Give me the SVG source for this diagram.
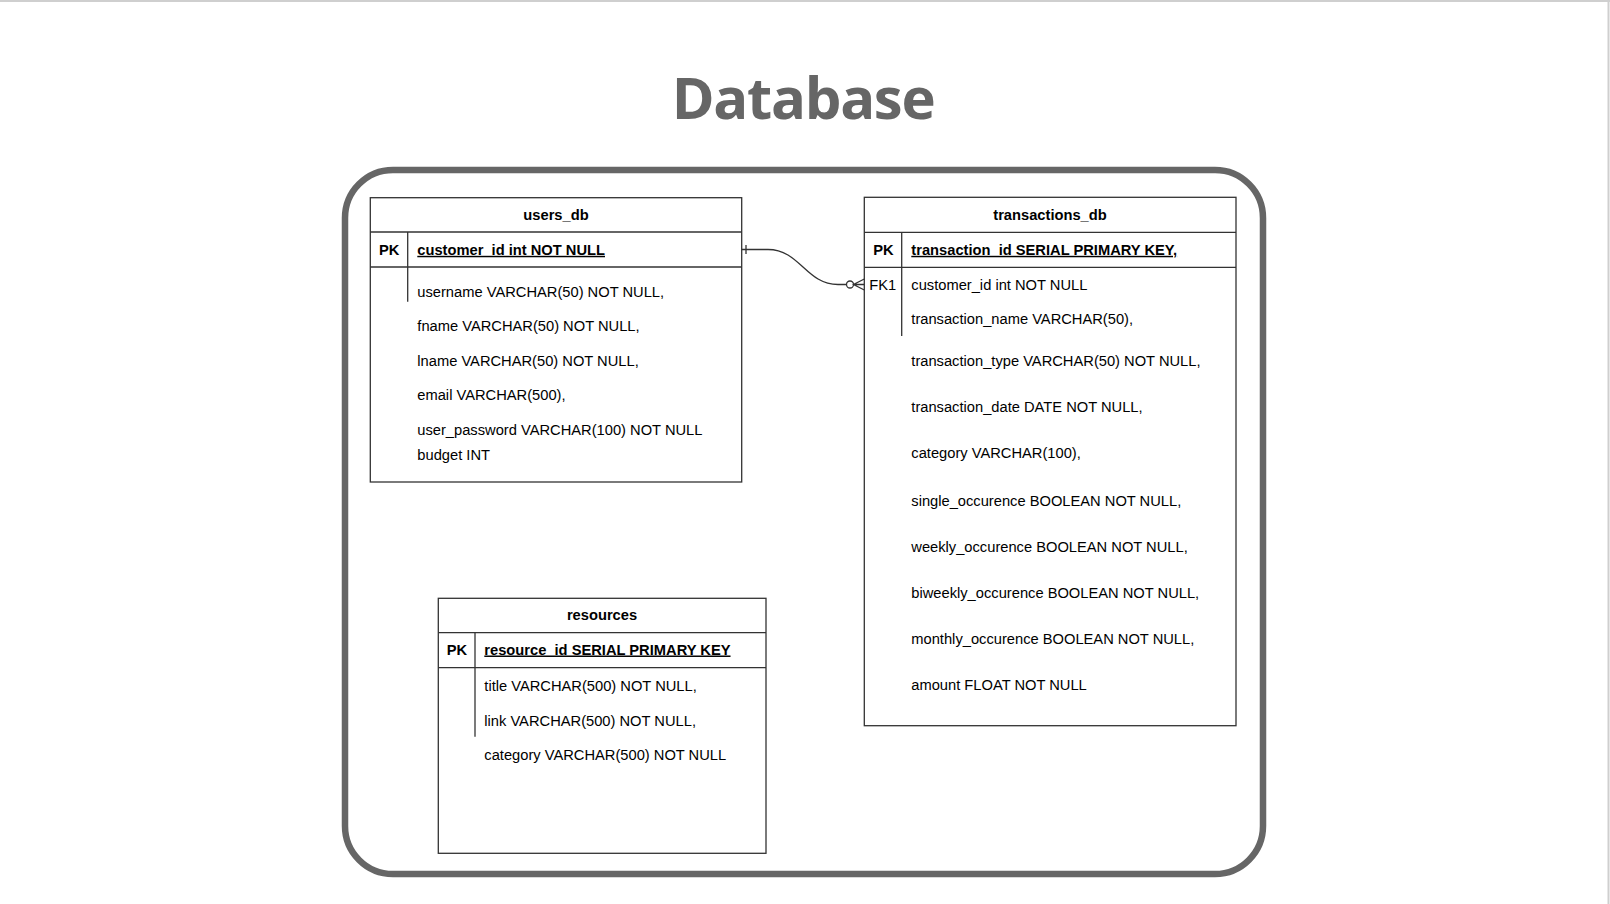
<svg xmlns="http://www.w3.org/2000/svg" width="1610" height="904" viewBox="0 0 1610 904">
<style>
.tb{fill:#fff;stroke:#333;stroke-width:1.3}
.ln{stroke:#333;stroke-width:1.3;fill:none}
.t{font-family:"Liberation Sans",Arial,sans-serif;font-size:14.7px;fill:#000}
.b{font-weight:bold}
.u{text-decoration:underline}
.c{text-anchor:middle}
</style>
<rect width="1610" height="904" fill="#fff"/>
<g id="page-frame">
<line x1="0" y1="1" x2="1610" y2="1" stroke="#cfcfcf" stroke-width="2"/>
<line x1="1608.5" y1="0" x2="1608.5" y2="904" stroke="#cfcfcf" stroke-width="2"/>
</g>
<g id="title">
<text x="803.7" y="118.5" text-anchor="middle" font-family="'Open Sans','Noto Sans',sans-serif" font-weight="bold" font-size="58" fill="#666" textLength="264" lengthAdjust="spacing">Database</text>
</g>
<g id="container">
<rect x="345" y="170" width="918" height="704" rx="48" ry="48" fill="none" stroke="#666" stroke-width="6.5"/>
</g>
<g id="users_db">
<rect class="tb" x="370.3" y="197.7" width="371.4" height="284.3"/>
<line class="ln" x1="370.3" y1="232" x2="741.7" y2="232"/>
<line class="ln" x1="370.3" y1="267" x2="741.7" y2="267"/>
<line class="ln" x1="407.7" y1="232" x2="407.7" y2="301.7"/>
<text class="t b c" x="556" y="219.8">users_db</text>
<text class="t b" x="379" y="254.8">PK</text>
<text class="t b u" x="417.3" y="254.8">customer_id int NOT NULL</text>
<text class="t" x="417.3" y="296.7">username VARCHAR(50) NOT NULL,</text>
<text class="t" x="417.3" y="331">fname VARCHAR(50) NOT NULL,</text>
<text class="t" x="417.3" y="365.5">lname VARCHAR(50) NOT NULL,</text>
<text class="t" x="417.3" y="400">email VARCHAR(500),</text>
<text class="t" x="417.3" y="434.7">user_password VARCHAR(100) NOT NULL</text>
<text class="t" x="417.3" y="459.8">budget INT</text>
</g>
<g id="transactions_db">
<rect class="tb" x="864.3" y="197.3" width="371.7" height="528.4"/>
<line class="ln" x1="864.3" y1="232.3" x2="1236" y2="232.3"/>
<line class="ln" x1="864.3" y1="267.3" x2="1236" y2="267.3"/>
<line class="ln" x1="901.7" y1="232.3" x2="901.7" y2="336"/>
<text class="t b c" x="1050" y="219.8">transactions_db</text>
<text class="t b" x="873.3" y="254.8">PK</text>
<text class="t b u" x="911.3" y="254.8">transaction_id SERIAL PRIMARY KEY,</text>
<text class="t" x="869.3" y="289.8">FK1</text>
<text class="t" x="911.3" y="289.8">customer_id int NOT NULL</text>
<text class="t" x="911.3" y="324.3">transaction_name VARCHAR(50),</text>
<text class="t" x="911.3" y="366">transaction_type VARCHAR(50) NOT NULL,</text>
<text class="t" x="911.3" y="411.7">transaction_date DATE NOT NULL,</text>
<text class="t" x="911.3" y="458.3">category VARCHAR(100),</text>
<text class="t" x="911.3" y="505.5">single_occurence BOOLEAN NOT NULL,</text>
<text class="t" x="911.3" y="551.5">weekly_occurence BOOLEAN NOT NULL,</text>
<text class="t" x="911.3" y="597.5">biweekly_occurence BOOLEAN NOT NULL,</text>
<text class="t" x="911.3" y="643.5">monthly_occurence BOOLEAN NOT NULL,</text>
<text class="t" x="911.3" y="690">amount FLOAT NOT NULL</text>
</g>
<g id="resources">
<rect class="tb" x="438.3" y="598.3" width="327.7" height="255"/>
<line class="ln" x1="438.3" y1="632.7" x2="766" y2="632.7"/>
<line class="ln" x1="438.3" y1="667.7" x2="766" y2="667.7"/>
<line class="ln" x1="475" y1="632.7" x2="475" y2="736.7"/>
<text class="t b c" x="602" y="620">resources</text>
<text class="t b" x="446.7" y="654.5">PK</text>
<text class="t b u" x="484.3" y="654.5">resource_id SERIAL PRIMARY KEY</text>
<text class="t" x="484.3" y="690.5">title VARCHAR(500) NOT NULL,</text>
<text class="t" x="484.3" y="725.5">link VARCHAR(500) NOT NULL,</text>
<text class="t" x="484.3" y="760">category VARCHAR(500) NOT NULL</text>
</g>
<g id="connectors">
<path class="ln" d="M741.7,249.5 H768 C800,249.5 806,284.5 838,284.5 H846.5"/>
<line class="ln" x1="746" y1="245" x2="746" y2="254"/>
<circle cx="850" cy="284.5" r="3.5" fill="#fff" stroke="#333" stroke-width="1.3"/>
<path class="ln" d="M864.3,279 L853.5,284.5 L864.3,290 M853.5,284.5 H864.3"/>
</g>
</svg>
